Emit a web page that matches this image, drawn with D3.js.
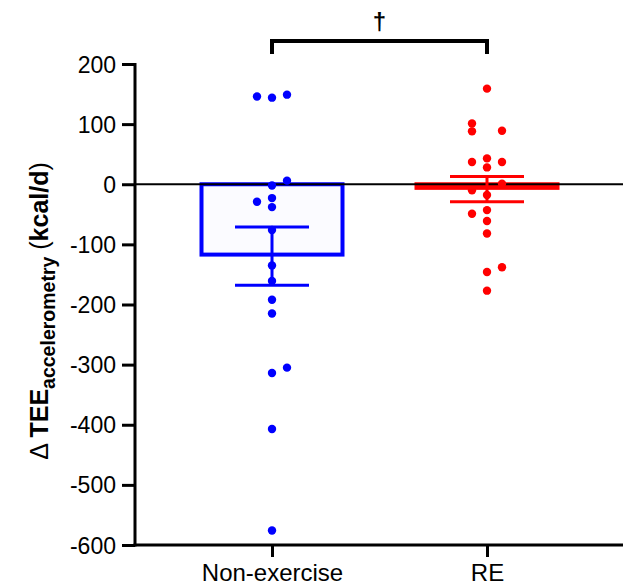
<!DOCTYPE html>
<html><head><meta charset="utf-8">
<script src="https://cdn.jsdelivr.net/npm/d3@7"></script>
<style>body{margin:0;background:#fff}svg{display:block}</style>
</head><body>
<script>
const categories = ["Non-exercise", "RE"];
const colors = ["#0000ff", "#ff0000"];
const means = [-117, -6];
const semUpper = [-71, 13];
const semLower = [-168, -29];
const nonExercise = [
  [-1,146],[0,144],[1,149],[0,-2],[1,6],[-1,-29],[0,-23],[0,-38],[0,-76],
  [0,-135],[0,-161],[0,-192],[0,-215],[0,-314],[1,-305],[0,-407],[0,-576]
];
const reValues = [
  [0,159],[-1,101],[-1,88],[1,89],[-1,37],[0,43],[0,28],[1,37],[1,1],
  [-1,-10],[0,-18],[-1,-49],[0,-43],[0,-61],[0,-82],[0,-146],[1,-138],[0,-177]
];
const yTicks = [200,100,0,-100,-200,-300,-400,-500,-600];

const W = 623, H = 585;
const svg = d3.select("body").append("svg").attr("width", W).attr("height", H);
const y = d3.scaleLinear().domain([-600, 200]).range([545, 64]);
const x = d3.scalePoint().domain(categories).range([272, 487]);
const barW = 141, capW = 74, jitter = 15;
const font = "Liberation Sans, Arial, sans-serif";

// bars
categories.forEach((c, i) => {
  const y0 = y(0), y1 = y(means[i]);
  svg.append("rect")
    .attr("x", x(c) - barW/2).attr("y", Math.min(y0, y1))
    .attr("width", barW).attr("height", Math.abs(y1 - y0))
    .attr("fill", i === 0 ? "#fbfbff" : "#fff8f8")
    .attr("stroke", colors[i]).attr("stroke-width", 4);
});

// zero line
svg.append("line").attr("x1", 135).attr("x2", W).attr("y1", y(0)).attr("y2", y(0))
  .attr("stroke", "#000").attr("stroke-width", 2);

// error bars
categories.forEach((c, i) => {
  const g = svg.append("g").attr("stroke", colors[i]).attr("stroke-width", 3);
  g.append("line").attr("x1", x(c)).attr("x2", x(c)).attr("y1", y(semUpper[i])).attr("y2", y(semLower[i]));
  [semUpper[i], semLower[i]].forEach(v => {
    g.append("line").attr("x1", x(c) - capW/2).attr("x2", x(c) + capW/2).attr("y1", y(v)).attr("y2", y(v));
  });
});

// points
[nonExercise, reValues].forEach((pts, i) => {
  svg.append("g").selectAll("circle").data(pts).join("circle")
    .attr("cx", d => x(categories[i]) + d[0]*jitter)
    .attr("cy", d => y(d[1]))
    .attr("r", 4.2).attr("fill", colors[i]);
});

// y axis
const yAxis = svg.append("g").attr("transform", "translate(135,0)")
  .call(d3.axisLeft(y).tickValues(yTicks).tickSize(13).tickPadding(6).tickFormat(d => String(d)));
yAxis.select(".domain").attr("stroke-width", 3).attr("d", `M-0,${y(200)-1}V${y(-600)+1.5}`);
yAxis.selectAll(".tick line").attr("stroke-width", 3);
yAxis.selectAll("text").attr("font-family", font).attr("font-size", 23).attr("fill", "#000").attr("dy", "0.35em");

// x axis
const xAxis = svg.append("g").attr("transform", `translate(0,${y(-600)})`)
  .call(d3.axisBottom(x).tickSize(12).tickPadding(7));
xAxis.select(".domain").attr("stroke-width", 3).attr("d", `M133.5,0H${W}`);
xAxis.selectAll(".tick line").attr("stroke-width", 3);
xAxis.selectAll("text").attr("font-family", font).attr("font-size", 24).attr("fill", "#000");

// y label
const lab = svg.append("text").attr("transform", "translate(48,311) rotate(-90)")
  .attr("text-anchor", "middle").attr("font-family", font).attr("font-size", 25).attr("fill", "#000");
lab.append("tspan").text("Δ ");
lab.append("tspan").attr("font-weight", "bold").text("TEE");
lab.append("tspan").attr("font-weight", "bold").attr("font-size", 19.5).attr("dy", 7).text("accelerometry");
lab.append("tspan").attr("dy", -7).text(" (");
lab.append("tspan").attr("font-weight", "bold").text("kcal/d");
lab.append("tspan").text(")");

// significance bracket
svg.append("path")
  .attr("d", `M${x(categories[0])},54V41H${x(categories[1])}V54`)
  .attr("fill", "none").attr("stroke", "#000").attr("stroke-width", 4);
svg.append("text").attr("x", (x(categories[0]) + x(categories[1]))/2).attr("y", 30)
  .attr("text-anchor", "middle").attr("font-family", font).attr("font-weight", "bold")
  .attr("font-size", 24).attr("fill", "#000").text("†");
</script>
</body></html>
